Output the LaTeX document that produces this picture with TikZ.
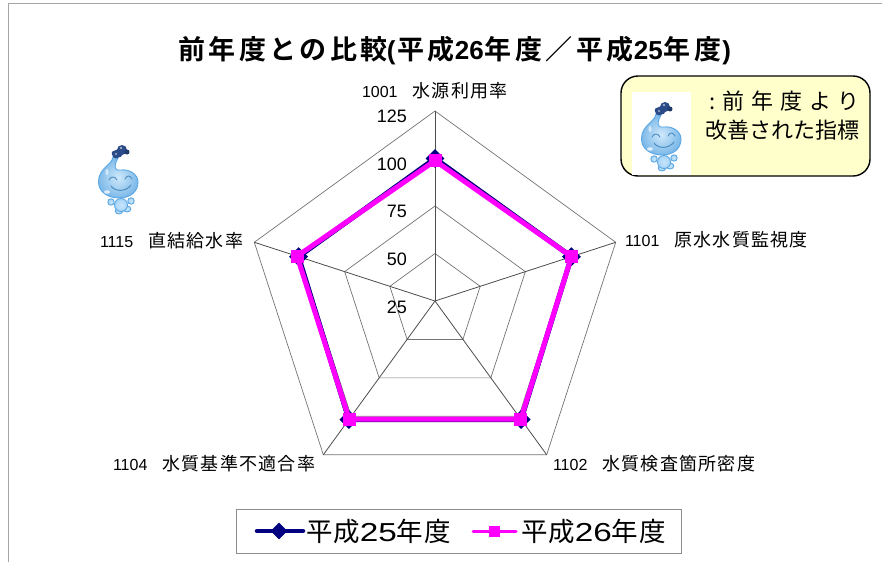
\documentclass[tikz,border=0pt]{standalone}
\usepackage{fontspec}
\setmainfont{Liberation Sans}
\newfontfamily\lat{Liberation Sans}
\newfontfamily\latwide[FakeStretch=1.28]{Liberation Sans}
\newfontfamily\jplabel[LetterSpace=7]{Noto Sans CJK JP}
\newfontfamily\jpbox{Noto Sans CJK JP}
\newfontfamily\jpleg[LetterSpace=3]{Noto Sans CJK JP}
\newfontfamily\jptitle[LetterSpace=13,BoldFont={Noto Sans CJK JP Bold}]{Noto Sans CJK JP}
\usetikzlibrary{calc,shapes.geometric}
\newcommand{\Lab}[2]{{\fontsize{16}{18}\selectfont\lat #1}\hspace{15pt}{\fontsize{18}{18}\selectfont\jplabel #2}}
\newcommand{\Tk}[1]{{\jptitle\bfseries #1}}
\newcommand{\Td}[1]{{\lat\bfseries\fontsize{26}{30}\selectfont #1}}
\newcommand{\Lg}[1]{{\jpleg\fontsize{26.5}{28}\selectfont 平成}{\latwide\fontsize{26}{28}\selectfont #1}{\jpleg\fontsize{26.5}{28}\selectfont 年度}}
\tikzset{
  txt/.style={inner sep=0pt,outer sep=0pt,text=black},
  chartlab/.style={txt,anchor=base west},
  axlab/.style={txt,anchor=base east,font=\fontsize{18}{20}\selectfont\lat},
  grid/.style={draw=black!55,line width=0.7pt},
  spoke/.style={draw=black!70,line width=0.8pt},
  s25/.style={draw=navy,line width=5pt,line join=round},
  s26/.style={draw=hotm,line width=5pt,line join=round},
  dm/.style={diamond,fill=navy,inner sep=0pt,minimum width=19pt,minimum height=19pt},
  sq/.style={rectangle,fill=hotm,inner sep=0pt,minimum size=13pt},
  drop/.style={inner color=dropf!65!white,outer color=dropf,draw=dropd,line width=0.9pt},
}
\definecolor{navy}{HTML}{000080}
\definecolor{hotm}{HTML}{FF00FF}
\definecolor{boxy}{HTML}{FFFFCC}
\definecolor{dropf}{HTML}{A8D6F7}
\definecolor{dropd}{HTML}{5BA7E3}
\definecolor{tapc}{HTML}{2A4A88}
% mascot: argument is the centre of the head
\newcommand{\mascot}[2]{
\begin{scope}[shift={(#1,#2)}]
  \path[drop] (-7,18) circle (3.2);
  \path[drop] (13,17) circle (3.2);
  \path[drop] (1,27) ellipse (3.8 and 3);
  \path[drop] (9,25) ellipse (3.8 and 3);
  \path[drop] (3,21) circle (6.5);
  \path[inner color=dropf!55!white,outer color=dropd!80!white,draw=dropd,line width=0.9pt]
    (-5,-27) .. controls (-6,-19) and (-19,-16) .. (-19.5,-3)
    .. controls (-20,8) and (-10,14) .. (1,14)
    .. controls (12,14) and (20,8) .. (20,-2)
    .. controls (20,-10) and (11,-15) .. (3,-14)
    .. controls (-1,-14) and (-3,-14) .. (-3,-17)
    .. controls (-3,-20) and (-2,-23) .. (0,-26) -- cycle;
  \fill[white,opacity=.75] (-11,8) ellipse (3 and 1.8);
  \fill[white,opacity=.6] (-11,-12) ellipse (1.5 and 3);
  \draw[dropd!85!black,line width=0.9pt,line cap=round] (-9,-4) .. controls (-7,-8) and (-3,-8) .. (-1,-4);
  \draw[dropd!85!black,line width=0.9pt,line cap=round] (7,-5) .. controls (9,-9) and (12,-9) .. (14,-5);
  \draw[dropd!85!black,line width=1pt,line cap=round] (-7,2) .. controls (-3,8) and (8,8) .. (13,1);
  \fill[tapc,rounded corners=2pt] (-7,-32) -- (3,-36) -- (5,-28) -- (-4,-25) -- cycle;
  \fill[tapc] (4,-34) circle (5);
  \fill[tapc!80!black] (9,-32) circle (2.5);
  \fill[tapc!45!white] (3,-36) circle (1.4);
  \fill[tapc!55!white] (-2,-30) circle (1.3);
\end{scope}}
\begin{document}
\begin{tikzpicture}[x=1pt,y=-1pt]
\useasboundingbox (0,0) rectangle (882,562);
% outer frame
\coordinate (fa) at (8.5,562); \coordinate (fb) at (8.5,3.5); \coordinate (fc) at (882,3.5);
\draw[draw=black!35,line width=1pt] (fa) -- (fb) -- (fc);
% chart geometry
\coordinate (O) at (435,301);
\foreach \n/\a in {a/90,b/18,c/-54,d/-126,e/162}{
  \foreach \k/\r in {1/47.5,2/95,3/142.5,4/190}{
    \coordinate (\n\k) at ({435+\r*cos(\a)},{301-\r*sin(\a)});
  }
}
\foreach \k in {1,2,3,4}{
  \draw[grid] (a\k) -- (b\k) -- (c\k) -- (d\k) -- (e\k) -- cycle;
}
\foreach \n in {a,b,c,d,e}{ \draw[spoke] (O) -- (\n4); }
% data
\foreach \n/\a/\r in {a/90/142.5,b/18/143.5,c/-54/146.5,d/-126/146.5,e/162/143.5}{
  \coordinate (p\n) at ({435+\r*cos(\a)},{301-\r*sin(\a)});
}
\foreach \n/\a/\r in {a/90/140.3,b/18/143.5,c/-54/146,d/-126/146,e/162/145}{
  \coordinate (q\n) at ({435+\r*cos(\a)},{301-\r*sin(\a)});
}
\draw[s25] (pa) -- (pb) -- (pc) -- (pd) -- (pe) -- cycle;
\foreach \n in {a,b,c,d,e}{ \node[dm] (dm\n) at (p\n) {}; }
\draw[s26] (qa) -- (qb) -- (qc) -- (qd) -- (qe) -- cycle;
\foreach \n in {a,b,c,d,e}{ \node[sq] (sq\n) at (q\n) {}; }
% axis labels
\node[axlab] (t125) at (407,122) {125};
\node[axlab] (t100) at (407,170) {100};
\node[axlab] (t75) at (407,217) {75};
\node[axlab] (t50) at (407,265) {50};
\node[axlab] (t25) at (407,313) {25};
% category labels
\node[chartlab] (l1) at (362,97) {\Lab{1001}{水源利用率}};
\node[chartlab] (l2) at (625,246) {\Lab{1101}{原水水質監視度}};
\node[chartlab] (l3) at (553,470) {\Lab{1102}{水質検査箇所密度}};
\node[chartlab] (l4) at (113,470) {\Lab{1104}{水質基準不適合率}};
\node[chartlab] (l5) at (100,247) {\Lab{1115}{直結給水率}};
% title
\node[chartlab,font=\fontsize{27}{30}\selectfont] (title) at (178,59.5)
 {\Tk{前年度との比較}\hspace{-1pt}\Td{(}\hspace{2pt}\Tk{平成}\Td{26}\hspace{1pt}\Tk{年度／平成}\Td{25}\hspace{1pt}\Tk{年度}\hspace{1pt}\Td{)}};
% note box
\node[draw=black,fill=boxy,line width=1.4pt,rounded corners=17pt,minimum width=249pt,minimum height=100pt,inner sep=0pt] (notebox) at (745.5,126) {};
\fill[white] (632,92) rectangle (691,175.3);
\mascot{661}{141}
\node[txt,anchor=base west,font=\fontsize{22}{24}\selectfont\jpbox] (n1) at (709,109) {\hbox to 151pt{:\hfill 前\hfill 年\hfill 度\hfill よ\hfill り}};
\node[txt,anchor=base west,font=\fontsize{22}{24}\selectfont\jpbox] (n2) at (705,138) {改善された指標};
% free mascot
\mascot{118}{184}
% legend
\node[draw=black!45,fill=white,line width=0.9pt,minimum width=445pt,minimum height=44pt,inner sep=0pt] (legend) at (458.5,531) {};
\coordinate (la) at (257,531); \coordinate (lb) at (303,531);
\coordinate (lc) at (473,531); \coordinate (ld) at (516,531);
\draw[s25,line cap=round,line width=4.5pt] (la) -- (lb);
\node[dm,minimum width=17pt,minimum height=17pt] (ldm) at (279,531) {};
\draw[s26,line cap=round,line width=3pt] (lc) -- (ld);
\node[sq,minimum size=11pt] (lsq) at (494.5,531) {};
\node[chartlab] (lg1) at (306,541) {\Lg{25}};
\node[chartlab] (lg2) at (521,541) {\Lg{26}};
\end{tikzpicture}
\end{document}
